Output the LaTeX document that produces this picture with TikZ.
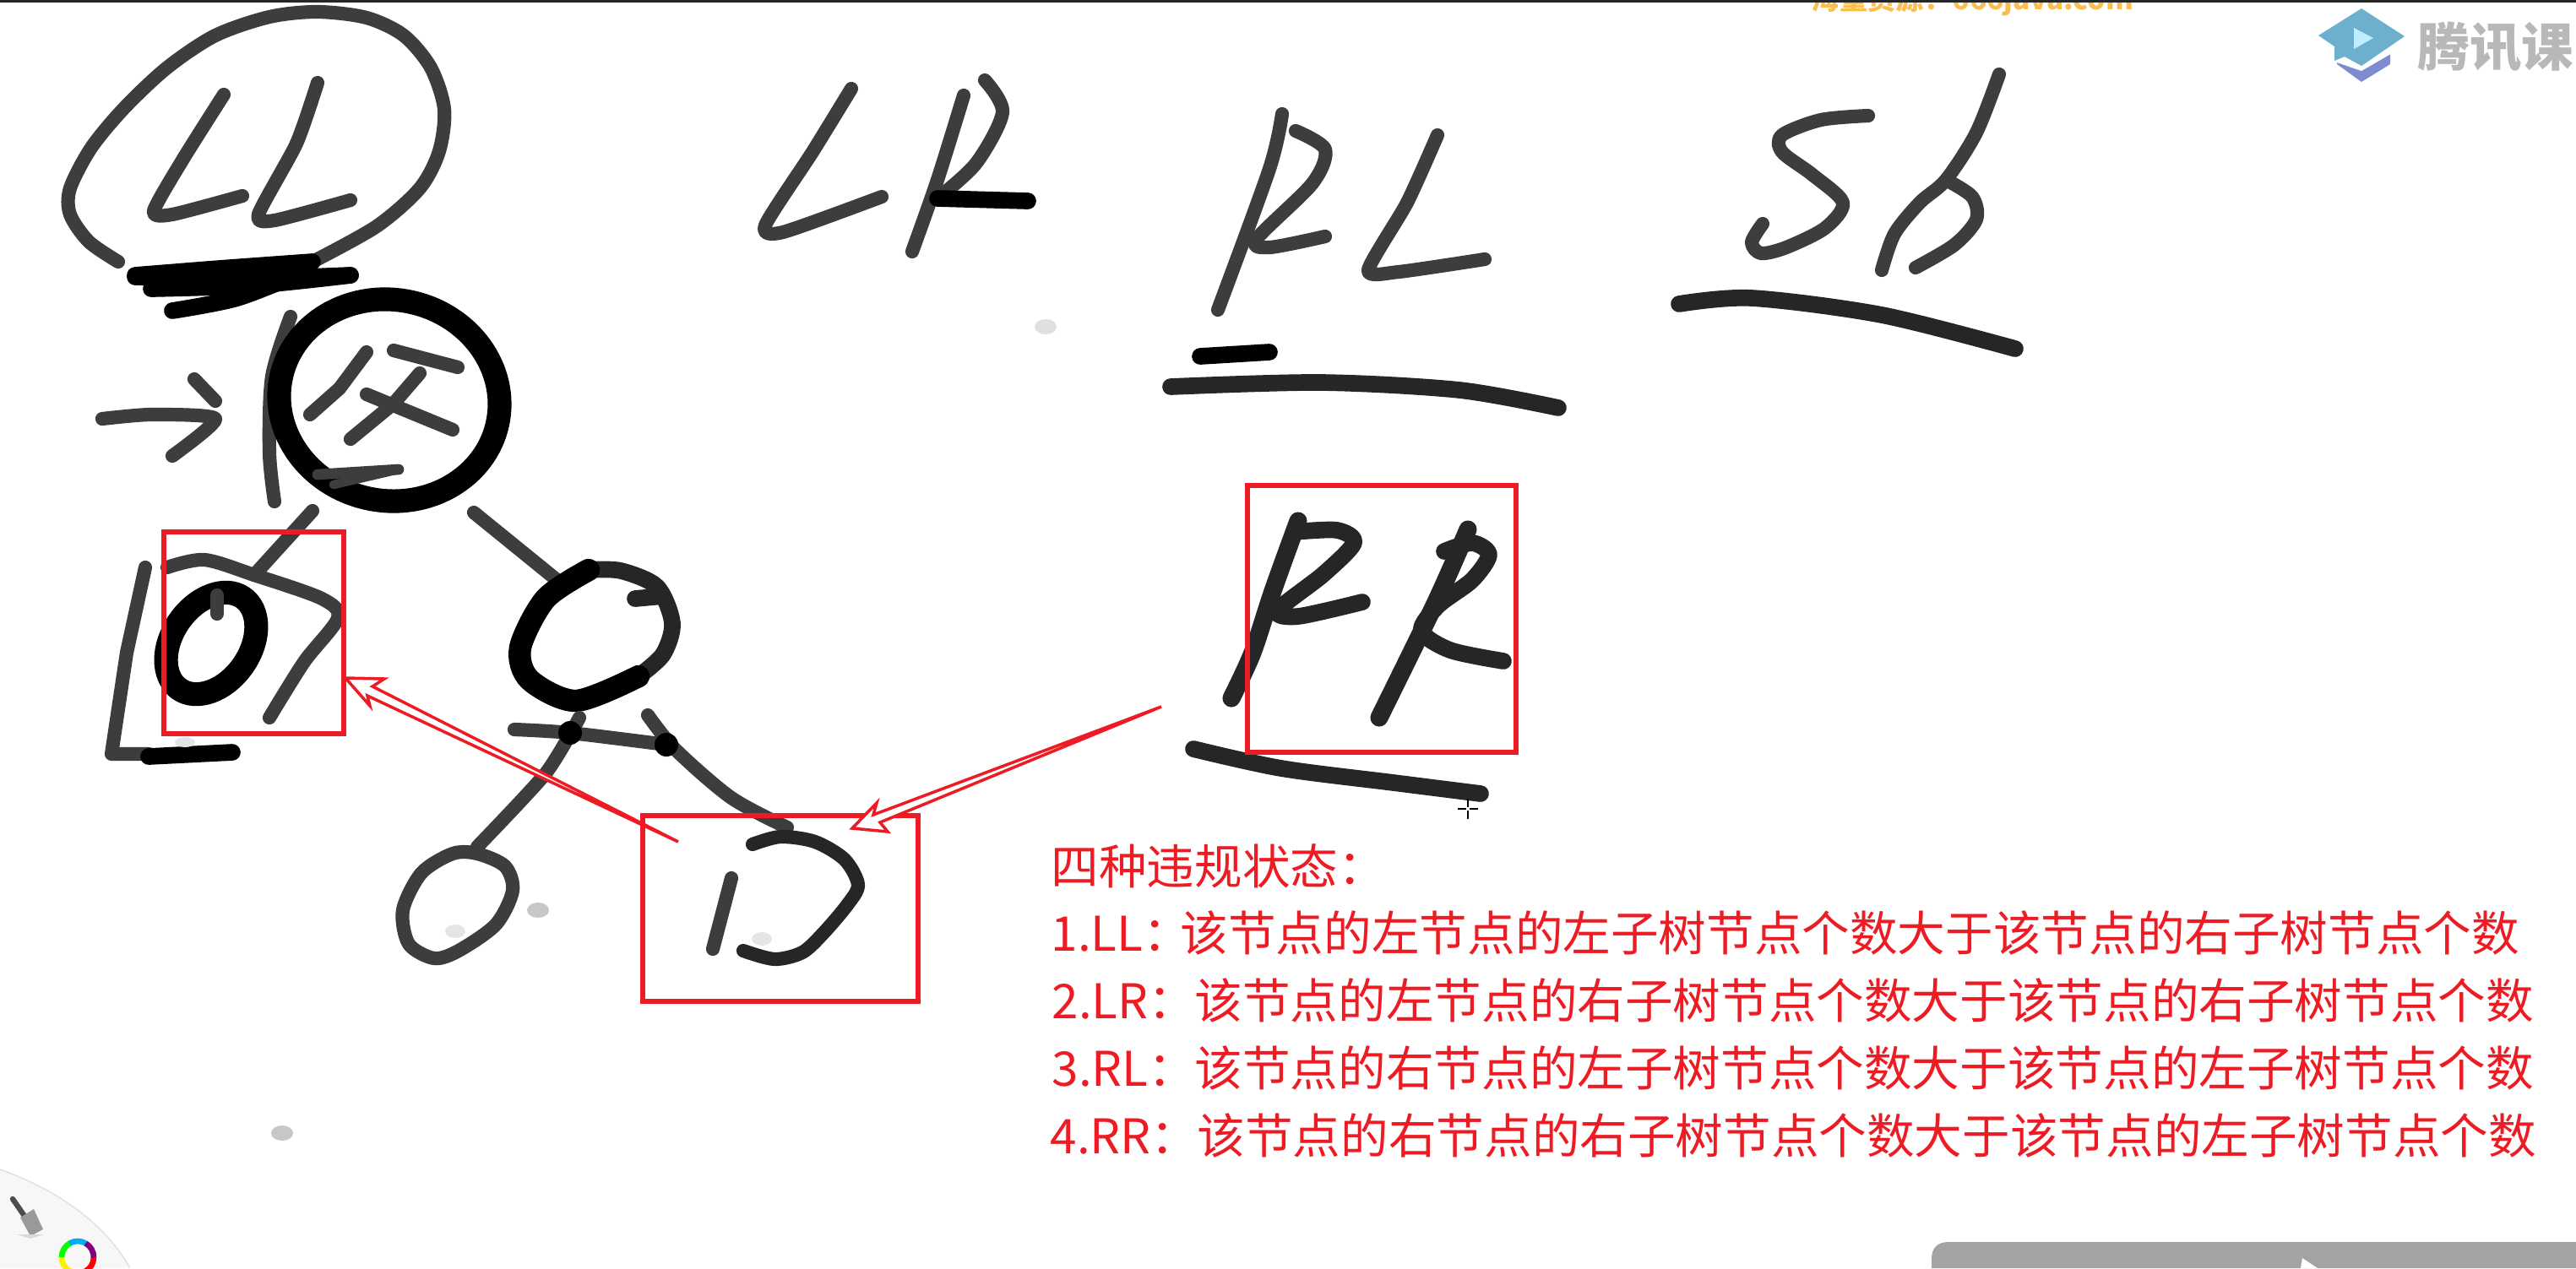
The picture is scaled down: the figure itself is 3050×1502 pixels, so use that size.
\documentclass[tikz,border=0pt]{standalone}
\usepackage{fontspec}
\usepackage{tikz}
\newfontfamily\cjk{Noto Sans CJK SC}
\definecolor{markred}{RGB}{237,28,36}
\definecolor{logoblue}{RGB}{108,176,206}
\definecolor{logoviolet}{RGB}{126,140,207}
\definecolor{waterorange}{RGB}{250,190,80}
\tikzset{
  pen/.style={line width=4.6pt,black!76,line cap=round,line join=round},
  fatpen/.style={line width=5.6pt,black!85,line cap=round,line join=round},
  boldpen/.style={line width=8pt,black,line cap=round,line join=round},
  redbox/.style={draw=markred,line width=1.7pt,inner sep=0pt},
  redarrow/.style={draw=markred,line width=1pt,fill=white,line join=miter},
  redtext/.style={text=markred,font=\cjk\fontsize{16.1}{18}\selectfont,inner sep=0pt,anchor=base west},
  speck/.style={fill=black!22,draw=none}
}
\begin{document}
\begin{tikzpicture}[x=0.01cm,y=-0.01cm]
\useasboundingbox (0,0) rectangle (3050,1502);

\draw[pen] plot[smooth] coordinates {(140,310) (105,286) (83,254) (83,223) (108,175) (147,128) (198,80) (255,42) (319,20) (376,14) (434,21) (478,42) (510,80) (526,129) (520,179) (497,223) (446,268) (370,310)};
\draw[fatpen,black] plot[smooth] coordinates {(370,310) (260,318) (160,326)};
\draw[fatpen,black] plot[smooth] coordinates {(160,328) (290,330) (415,326)};
\draw[fatpen,black] plot[smooth] coordinates {(415,326) (300,338) (179,342)};
\draw[fatpen,black] plot[smooth] coordinates {(360,322) (281,353) (204,368)};
\draw[pen] plot[smooth,tension=0.4] coordinates {(265,112) (217,188) (182,250) (204,254) (287,232)};
\draw[pen] plot[smooth,tension=0.4] coordinates {(376,98) (351,170) (306,254) (325,261) (415,237)};

\draw[pen] plot[smooth] coordinates {(344,375) (322,446) (319,536) (325,594)};
\draw[boldpen] (461,474) ellipse[x radius=131,y radius=119,rotate=-12];
\draw[pen] (434,417) -- (402,460) -- (367,491);
\draw[pen] (466,415) -- (542,435);
\draw[pen] (497,442) -- (466,478) -- (415,520);
\draw[pen] (434,467) -- (536,509);
\draw[pen,line width=3.6pt] (376,562) -- (472,556);
\draw[pen,line width=3pt] (395,574) -- (472,556);
\draw[pen] plot[smooth,tension=0.4] coordinates {(121,496) (179,491) (255,496) (204,540)};
\draw[pen] (230,449) -- (255,475);

\draw[pen] (370,605) -- (301,681);
\draw[pen] (561,607) -- (657,685);

\draw[pen] (172,672) -- (150,773) -- (132,893) -- (176,893);
\draw[fatpen,black] (176,896) -- (275,891);
\draw[pen] plot[smooth,tension=0.5] coordinates {(198,672) (242,663) (301,681) (381,709) (400,732) (360,784) (319,850)};
\draw[boldpen] (250,762) ellipse[x radius=66,y radius=46,rotate=55];
\draw[pen] (257,705) -- (257,727);

\draw[fatpen] plot[smooth] coordinates {(697,675) (735,676) (778,695) (796,738) (785,775) (756,801)};
\draw[fatpen] (752,709) -- (785,706);
\draw[boldpen,line width=7.5pt] plot[smooth] coordinates {(756,801) (682,830) (627,805) (616,767) (646,709) (697,675)};
\draw[pen] plot[smooth] coordinates {(609,864) (675,868) (789,882)};
\draw[pen] plot[smooth,tension=0.4] coordinates {(686,850) (646,916) (565,1003)};
\draw[pen] plot[smooth,tension=0.5] coordinates {(767,847) (800,888) (866,945) (932,980)};
\fill[black] (789,882) circle (14);
\fill[black] (675,868) circle (14);

\draw[pen] plot[smooth cycle] coordinates {(565,1011) (598,1026) (607,1055) (587,1095) (543,1126) (514,1135) (484,1118) (477,1078) (499,1034) (536,1011)};
\draw[pen] (866,1040) -- (844,1124);
\draw[pen,black!85] plot[smooth] coordinates {(891,1000) (924,991) (965,997) (1000,1018) (1016,1048) (1003,1072) (975,1105) (950,1128) (917,1136) (880,1126)};

\draw[pen] plot[smooth,tension=0.4] coordinates {(1008,105) (962,180) (906,267) (927,275) (1044,233)};
\draw[pen] plot[smooth] coordinates {(1080,298) (1110,213) (1141,113)};
\draw[pen] plot[smooth] coordinates {(1166,95) (1187,133) (1156,193) (1110,235)};
\draw[fatpen,black] (1110,235) -- (1217,238);

\draw[pen] plot[smooth] coordinates {(1518,135) (1503,200) (1442,367)};
\draw[pen] plot[smooth,tension=0.5] coordinates {(1534,155) (1569,177) (1554,217) (1488,283) (1503,293) (1569,280)};
\draw[pen] plot[smooth,tension=0.4] coordinates {(1702,160) (1666,240) (1620,320) (1656,322) (1758,307)};
\draw[fatpen,black] (1421,422) -- (1503,417);
\draw[fatpen] plot[smooth] coordinates {(1386,458) (1564,453) (1728,462) (1845,483)};

\draw[pen] plot[smooth] coordinates {(2212,137) (2156,142) (2110,160) (2110,180) (2146,207) (2182,240) (2161,270) (2115,293) (2085,300) (2074,287) (2087,265)};
\draw[pen] plot[smooth] coordinates {(2367,88) (2340,157) (2304,213) (2273,240) (2243,277) (2228,320)};
\draw[pen] plot[smooth] coordinates {(2304,213) (2335,233) (2340,260) (2314,290) (2268,317)};
\draw[fatpen] plot[smooth] coordinates {(1988,360) (2074,353) (2228,373) (2386,413)};

\draw[fatpen,line width=6pt] plot[smooth] coordinates {(1537,617) (1507,700) (1483,773) (1458,827)};
\draw[fatpen] plot[smooth,tension=0.5] coordinates {(1533,630) (1583,628) (1603,643) (1567,680) (1513,723) (1537,730) (1613,713)};
\draw[fatpen,line width=6pt] plot[smooth] coordinates {(1738,627) (1700,713) (1633,850)};
\draw[fatpen] plot[smooth,tension=0.5] coordinates {(1710,653) (1743,643) (1763,657) (1743,687) (1703,717) (1683,747) (1717,770) (1780,783)};
\draw[fatpen] plot[smooth] coordinates {(1413,887) (1517,910) (1650,927) (1753,940)};

\fill[speck] (637,1078) ellipse (13 and 9);
\fill[speck] (334,1342) ellipse (13 and 9);
\fill[speck,fill=black!12] (1238,387) ellipse (13 and 9);
\fill[speck,fill=black!10] (539,1103) ellipse (12 and 8);
\fill[speck,fill=black!10] (902,1112) ellipse (12 and 8);
\fill[speck,fill=black!10] (219,879) ellipse (12 and 6);

\node[redbox,minimum width=21.3mm,minimum height=23.9mm] (boxLL) at (300.5,749.5) {};
\node[redbox,minimum width=32.6mm,minimum height=22mm] (boxD) at (924,1076) {};
\node[redbox,minimum width=31.8mm,minimum height=31.6mm] (boxRR) at (1636,733) {};

\coordinate (tailLL) at (803,997);
\coordinate (tipLL) at (409,803);
\coordinate (tailRR) at (1375,837);
\coordinate (tipRR) at (1009,981);
\draw[redarrow] (tailLL) -- (441,813) -- (455,804) -- (tipLL) -- (438,836) -- (435,824) -- cycle;
\draw[redarrow] (tailRR) -- (1034,965) -- (1038,951) -- (tipRR) -- (1051,985) -- (1042,974) -- cycle;

\node[redtext] (title) at (1244,1047) {四种违规状态：};
\node[redtext] (numLL) at (1244,1126) {1.LL：};
\node[redtext] (lineLL) at (1397,1126) {该节点的左节点的左子树节点个数大于该节点的右子树节点个数};
\node[redtext] (numLR) at (1245,1206) {2.LR：};
\node[redtext] (lineLR) at (1414,1206) {该节点的左节点的右子树节点个数大于该节点的右子树节点个数};
\node[redtext] (numRL) at (1245,1286) {3.RL：};
\node[redtext] (lineRL) at (1414,1286) {该节点的右节点的左子树节点个数大于该节点的左子树节点个数};
\node[redtext] (numRR) at (1243,1366) {4.RR：};
\node[redtext] (lineRR) at (1417,1366) {该节点的右节点的右子树节点个数大于该节点的左子树节点个数};

\draw[black,line width=0.3pt] (1738,946) -- (1738,956) (1738,960) -- (1738,970) (1726,958) -- (1736,958) (1740,958) -- (1750,958);

\node[text=waterorange,font=\cjk\bfseries\fontsize{9.5}{12}\selectfont,inner sep=0pt,anchor=base west] (water) at (2144,11) {海量资源：666java.com};
\fill[black!85] (0,0) rectangle (3050,3);

\fill[logoviolet] (2767,76) -- (2796,97) -- (2830,76) -- (2830,60) -- (2767,60) -- cycle;
\fill[white] (2760,60) -- (2767,74) -- (2796,84) -- (2834,62) -- (2834,50) -- cycle;
\fill[logoblue] (2796,10) -- (2847,43) -- (2796,78) -- (2776,67) -- (2764,72) -- (2764,55) -- (2745,42) -- cycle;
\fill[blue!25!cyan!25] (2787,33) -- (2810,45) -- (2787,58) -- cycle;
\node[text=black!28,font=\cjk\bfseries\fontsize{17.5}{20}\selectfont,inner sep=0pt,anchor=base west] (brand) at (2862,78) {腾讯课};

\fill[black!3] (0,1385) .. controls (70,1410) and (125,1450) .. (154,1502) -- (0,1502) -- cycle;
\draw[black!12,line width=0.4pt] (0,1385) .. controls (70,1410) and (125,1450) .. (154,1502);
\draw[black!70,line width=1.8pt,line cap=round] (15,1420) -- (33,1446);
\fill[black!40] (24,1442) -- (40,1432) -- (51,1456) -- (36,1464) -- cycle;
\fill[black!15] (20,1462) -- (52,1462) -- (36,1467) -- cycle;
\foreach \ang/\col in {0/red,60/orange,120/yellow,180/green,240/cyan,300/violet}
  \draw[\col,line width=1.9pt] (92,1489) ++(\ang:19) arc[start angle=\ang,delta angle=62,radius=19];

\fill[black!36] (2287,1502) -- (2287,1491) .. controls (2287,1478) and (2294,1471) .. (2307,1471) -- (3050,1471) -- (3050,1502) -- cycle;
\fill[white] (2726,1490) -- (2744,1502) -- (2724,1502) -- cycle;
\end{tikzpicture}
\end{document}
